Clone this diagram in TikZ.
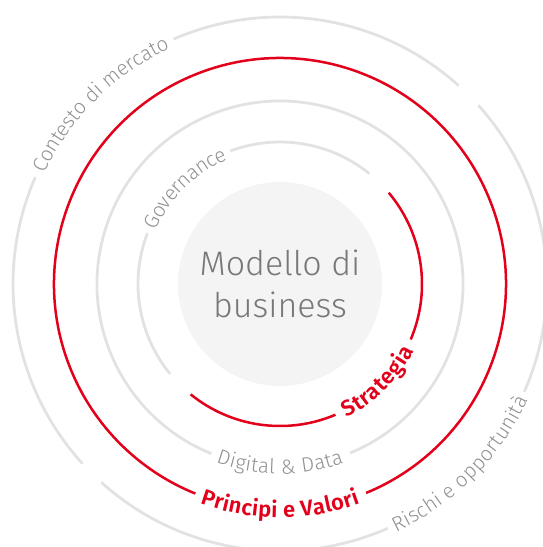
\documentclass[tikz,border=0pt]{standalone}
\usepackage{fontspec}
\setmainfont{Fira Sans}[UprightFont={* Light},BoldFont={* SemiBold}]
\usetikzlibrary{decorations.text}

\definecolor{ringgray}{RGB}{226,226,226}
\definecolor{labelgray}{RGB}{145,145,145}
\definecolor{brandred}{RGB}{226,0,26}
\definecolor{corefill}{RGB}{244,244,244}
\definecolor{coretext}{RGB}{120,120,120}

\newcommand{\graylabelfont}{\fontsize{20.5}{20.5}\selectfont}
\newcommand{\redlabelfont}{\fontsize{22}{22}\selectfont\bfseries}

\tikzstyle{ring} = [draw=ringgray, line width=2.8pt]
\tikzstyle{redring} = [draw=brandred, line width=2.5pt]
\tikzstyle{core} = [circle, fill=corefill, minimum size=204pt, inner sep=0pt, align=center, text=coretext, font=\fontsize{34}{42}\selectfont]
\tikzstyle{graylabel} = [decorate, decoration={text along path, text align=center, raise=-7pt, text color=labelgray}]
\tikzstyle{redlabel} = [decorate, decoration={text along path, text align=center, raise=-7.5pt, text color=brandred}]

\begin{document}
\begin{tikzpicture}[x=1pt, y=1pt]

\useasboundingbox (-280,-263) rectangle (263,284);
\clip (-280,-263) rectangle (263,284);

% Define nodes
\coordinate (c) at (0,0);
\node (core) [core] at (c) {Modello di\\business};

% Draw rings
\draw [ring] (c) ++(48:267) arc[start angle=48, end angle=113.5, radius=267];
\draw [ring] (c) ++(156.4:267) arc[start angle=156.4, end angle=222.3, radius=267];
\draw [ring] (c) ++(228:267) arc[start angle=228, end angle=293.8, radius=267];
\draw [ring] (c) ++(-23.8:267) arc[start angle=-23.8, end angle=42, radius=267];

\draw [redring] (c) ++(-67.6:226) arc[start angle=-67.6, end angle=248, radius=226];

\draw [ring] (c) ++(-67.5:183) arc[start angle=-67.5, end angle=248, radius=183];

\draw [ring] (c) ++(51:142) arc[start angle=51, end angle=110.5, radius=142];
\draw [ring] (c) ++(159:142) arc[start angle=159, end angle=219.3, radius=142];
\draw [redring] (c) ++(231:142) arc[start angle=231, end angle=293, radius=142];
\draw [redring] (c) ++(-23:142) arc[start angle=-23, end angle=40, radius=142];

% Draw labels
\path [graylabel, decoration={text={|\graylabelfont|Contesto di mercato}}] (c) ++(156.4:267) arc[start angle=156.4, end angle=113.5, radius=267];
\path [graylabel, decoration={text={|\graylabelfont|Rischi e opportunità}}] (c) ++(-66.2:267) arc[start angle=-66.2, end angle=-23.8, radius=267];
\path [redlabel, decoration={text={|\redlabelfont|Principi e Valori}}] (c) ++(247:226) arc[start angle=247, end angle=293, radius=226];
\path [graylabel, decoration={text={|\graylabelfont|Digital {\&} Data}}] (c) ++(247:183) arc[start angle=247, end angle=293, radius=183];
\path [graylabel, decoration={text={|\graylabelfont|Governance}}] (c) ++(159:142) arc[start angle=159, end angle=110.5, radius=142];
\path [redlabel, decoration={text={|\redlabelfont|Strategia}}] (c) ++(-67:142) arc[start angle=-67, end angle=-23, radius=142];

\end{tikzpicture}
\end{document}
